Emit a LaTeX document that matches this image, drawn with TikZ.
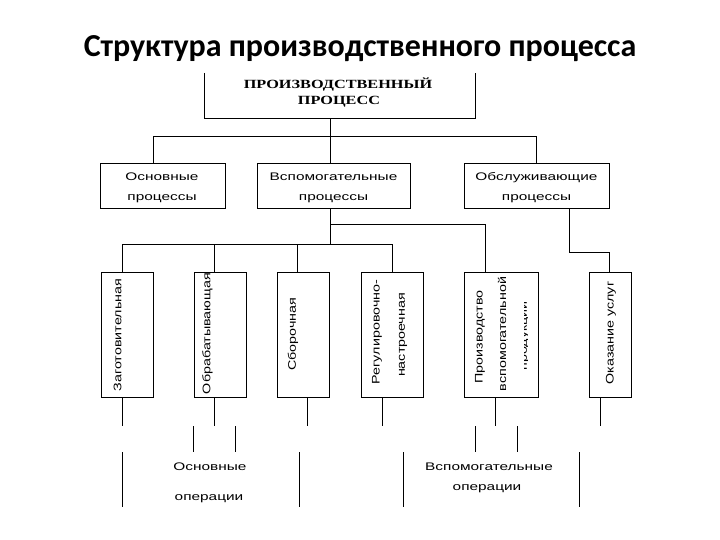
\documentclass[tikz,border=0pt]{standalone}
\usepackage{fontspec}
\setmainfont{Liberation Sans}
\newfontfamily\titlefont{Carlito}
\newfontfamily\capsfont{Liberation Serif}
\newcommand{\stretchtxt}[1]{\scalebox{1.3}[1]{#1}}
\newcommand{\widetxt}[1]{\scalebox{1.4}[1]{#1}}
\tikzset{
  box/.style={draw, line width=1pt, inner sep=0pt},
  lbl/.style={inner sep=0pt, font=\fontsize{11}{13}\selectfont},
  vlbl/.style={lbl, rotate=90},
  ln/.style={line width=1pt}
}
\begin{document}
\begin{tikzpicture}[x=1pt,y=-1pt]
\fill[white] (0,0) rectangle (720,540);
\useasboundingbox (0,0) rectangle (720,540);

% title
\node[anchor=base, inner sep=0pt, font=\titlefont\bfseries\fontsize{32}{36}\selectfont] (title) at (360,57) {Структура производственного процесса};

% top box (open top)
\node[minimum width=270pt, minimum height=45pt, inner sep=0pt] (top) at (340,95.5) {};
\draw[ln] (top.north west) -- (top.south west) -- (top.south east) -- (top.north east);
\node[anchor=base, inner sep=0pt, font=\capsfont\bfseries\fontsize{12.5}{14}\selectfont] (tl1) at (338,89) {\stretchtxt{ПРОИЗВОДСТВЕННЫЙ}};
\node[anchor=base, inner sep=0pt, font=\capsfont\bfseries\fontsize{12.5}{14}\selectfont] (tl2) at (339,105) {\stretchtxt{ПРОЦЕСС}};

% level 2 boxes
\node[box, minimum width=125pt, minimum height=45pt] (b1) at (162.5,186) {};
\node[box, minimum width=153pt, minimum height=45pt] (b2) at (333.5,186) {};
\node[box, minimum width=145pt, minimum height=45pt] (b3) at (536.5,186) {};
\node[lbl, anchor=base] (b1a) at (162,181) {\widetxt{Основные}};
\node[lbl, anchor=base] (b1b) at (162,201) {\widetxt{процессы}};
\node[lbl, anchor=base] (b2a) at (333.5,181) {\widetxt{Вспомогательные}};
\node[lbl, anchor=base] (b2b) at (333.5,201) {\widetxt{процессы}};
\node[lbl, anchor=base] (b3a) at (536.5,181) {\widetxt{Обслуживающие}};
\node[lbl, anchor=base] (b3b) at (536.5,201) {\widetxt{процессы}};

% level 3 boxes
\node[box, minimum width=52pt, minimum height=125pt] (c1) at (127,334.5) {};
\node[box, minimum width=52pt, minimum height=125pt] (c2) at (220,334.5) {};
\node[box, minimum width=52pt, minimum height=125pt] (c3) at (303,334.5) {};
\node[box, minimum width=62pt, minimum height=125pt] (c4) at (392,334.5) {};
\node[box, minimum width=74pt, minimum height=125pt] (c5) at (501,334.5) {};
\node[box, minimum width=42pt, minimum height=125pt] (c6) at (610,334.5) {};

\node[vlbl] (t1) at (117.5,335) {\stretchtxt{Заготовительная}};
\node[vlbl] (t2) at (207.5,333.5) {\stretchtxt{Обрабатывающая}};
\node[vlbl] (t3) at (293,334) {\stretchtxt{Сборочная}};
\node[vlbl] (t4a) at (377,332) {\stretchtxt{Регулировочно-}};
\node[vlbl] (t4b) at (403,335) {\stretchtxt{настроечная}};
\node[vlbl] (t5a) at (480,337) {\stretchtxt{Производство}};
\node[vlbl] (t5b) at (502,334) {\stretchtxt{вспомогательной}};
\begin{scope}
\clip (524,298) rectangle (527.5,374);
\node[vlbl] (t5c) at (525,336) {\stretchtxt{продукции}};
\end{scope}
\node[vlbl] (t6) at (611,333) {\stretchtxt{Оказание услуг}};

% connectors level 1-2
\coordinate (j0) at (330,137);
\coordinate (hL) at (153,137);
\coordinate (hR) at (536.5,137);
\draw[ln] (top.south -| j0) -- (b2.north -| j0);
\draw[ln] (b1.north -| hL) -- (hL) -- (hR) -- (b3.north);

% connectors level 2-3
\coordinate (k0) at (330,244);
\coordinate (lowL) at (122,244);
\coordinate (lowR) at (392,244);
\coordinate (xB) at (214,244);
\coordinate (xC) at (297,244);
\coordinate (br) at (485,225);
\coordinate (s1) at (569,252);
\coordinate (s2) at (609,252);
\draw[ln] (b2.south -| k0) -- (k0);
\draw[ln] (c1.north -| lowL) -- (lowL) -- (lowR) -- (c4.north -| lowR);
\draw[ln] (c2.north -| xB) -- (xB);
\draw[ln] (c3.north -| xC) -- (xC);
\draw[ln] (br -| k0) -- (br) -- (c5.north -| br);
\draw[ln] (b3.south -| s1) -- (s1) -- (s2) -- (c6.north -| s2);

% lines below level 3
\coordinate (d1) at (122,426);
\coordinate (d2) at (214,426);
\coordinate (d3) at (307,426);
\coordinate (d4) at (382,426);
\coordinate (d5) at (495,426);
\coordinate (d6) at (600,426);
\draw[ln] (c1.south -| d1) -- (d1);
\draw[ln] (c2.south -| d2) -- (d2);
\draw[ln] (c3.south -| d3) -- (d3);
\draw[ln] (c4.south -| d4) -- (d4);
\draw[ln] (c5.south -| d5) -- (d5);
\draw[ln] (c6.south -| d6) -- (d6);

% short lines
\coordinate (e1a) at (193,426); \coordinate (e1b) at (193,452);
\coordinate (e2a) at (235,426); \coordinate (e2b) at (235,452);
\coordinate (e3a) at (475,426); \coordinate (e3b) at (475,452);
\coordinate (e4a) at (517,426); \coordinate (e4b) at (517,452);
\draw[ln] (e1a) -- (e1b);
\draw[ln] (e2a) -- (e2b);
\draw[ln] (e3a) -- (e3b);
\draw[ln] (e4a) -- (e4b);

% long lines
\coordinate (f1a) at (122,452); \coordinate (f1b) at (122,507);
\coordinate (f2a) at (299,452); \coordinate (f2b) at (299,507);
\coordinate (f3a) at (403,452); \coordinate (f3b) at (403,507);
\coordinate (f4a) at (579,452); \coordinate (f4b) at (579,507);
\draw[ln] (f1a) -- (f1b);
\draw[ln] (f2a) -- (f2b);
\draw[ln] (f3a) -- (f3b);
\draw[ln] (f4a) -- (f4b);

% operation labels
\node[lbl, anchor=base] (o1a) at (210,470) {\widetxt{Основные}};
\node[lbl, anchor=base] (o1b) at (209,500) {\widetxt{операции}};
\node[lbl, anchor=base] (o2a) at (489,470) {\widetxt{Вспомогательные}};
\node[lbl, anchor=base] (o2b) at (487,490) {\widetxt{операции}};
\end{tikzpicture}
\end{document}
